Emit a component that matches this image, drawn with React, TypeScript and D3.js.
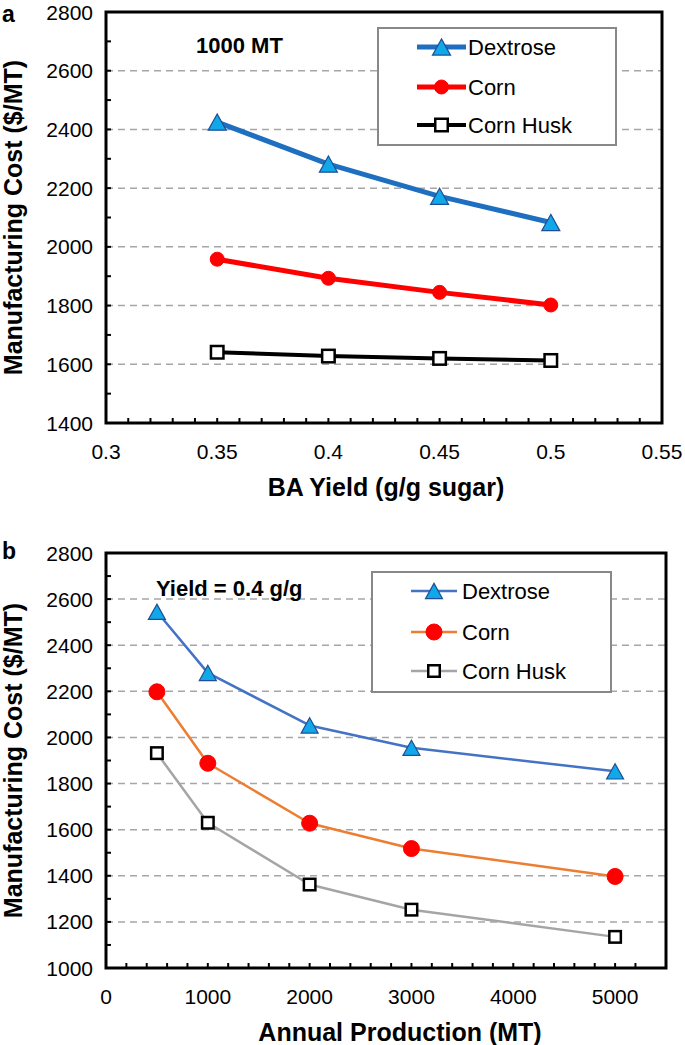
import * as d3 from "d3";

// panel a: cost vs BA yield at 1000 MT
const yieldX = [0.35, 0.4, 0.45, 0.5];
const dextroseA = [2425, 2282, 2172, 2083];
const cornA = [1958, 1893, 1845, 1802];
const huskA = [1641, 1628, 1620, 1613];
const xTicksA = [0.3, 0.35, 0.4, 0.45, 0.5, 0.55];
const yTicksA = [1400, 1600, 1800, 2000, 2200, 2400, 2600, 2800];

// panel b: cost vs annual production at yield 0.4
const productionX = [500, 1000, 2000, 3000, 5000];
const dextroseB = [2545, 2280, 2052, 1955, 1853];
const cornB = [2198, 1888, 1628, 1518, 1397];
const huskB = [1932, 1630, 1362, 1253, 1135];
const xTicksB = [0, 1000, 2000, 3000, 4000, 5000];
const yTicksB = [1000, 1200, 1400, 1600, 1800, 2000, 2200, 2400, 2600, 2800];

const seriesNames = ["Dextrose", "Corn", "Corn Husk"];

const FONT = "'Liberation Sans', Arial, sans-serif";

type Style = { line: string; width: number; marker: string; fill: string; stroke: string; mstroke: number; size: number };

const stylesA: Style[] = [
  { line: "#1f6fc0", width: 5, marker: "tri", fill: "#10a8e8", stroke: "#1f4e96", mstroke: 1.2, size: 18 },
  { line: "#ff0000", width: 5, marker: "circle", fill: "#ff0000", stroke: "#ff0000", mstroke: 1, size: 14 },
  { line: "#000000", width: 4, marker: "square", fill: "#ffffff", stroke: "#000000", mstroke: 2.5, size: 15 },
];
const stylesB: Style[] = [
  { line: "#4472c4", width: 2.5, marker: "tri", fill: "#10a8e8", stroke: "#1f4e96", mstroke: 1.2, size: 17 },
  { line: "#ed7d31", width: 2.5, marker: "circle", fill: "#ff0000", stroke: "#ff0000", mstroke: 1, size: 16 },
  { line: "#a5a5a5", width: 2.5, marker: "square", fill: "#ffffff", stroke: "#000000", mstroke: 2.5, size: 14 },
];

function Marker({ x, y, s }: { x: number; y: number; s: Style }) {
  const r = s.size / 2;
  if (s.marker === "tri") {
    const h = s.size * 0.9;
    return (
      <path
        d={`M${x},${y - h / 2}L${x + r},${y + h / 2}L${x - r},${y + h / 2}Z`}
        fill={s.fill}
        stroke={s.stroke}
        strokeWidth={s.mstroke}
      />
    );
  }
  if (s.marker === "circle") {
    return <circle cx={x} cy={y} r={r} fill={s.fill} stroke={s.stroke} strokeWidth={s.mstroke} />;
  }
  const q = r - s.mstroke / 2;
  return <rect x={x - q} y={y - q} width={q * 2} height={q * 2} fill={s.fill} stroke={s.stroke} strokeWidth={s.mstroke} />;
}

type PanelProps = {
  left: number; right: number; top: number; bottom: number;
  xDomain: [number, number]; yDomain: [number, number];
  xTicks: number[]; yTicks: number[]; xMinor: number; yMinor: number;
  xs: number[]; series: number[][]; styles: Style[];
  letter: string; letterY: number; note: string; noteX: number; noteY: number;
  xTitle: string; xTitleX: number;
  legend: { x: number; y: number; w: number; h: number; rows: number[]; lineX: [number, number]; textX: number };
};

function Panel(p: PanelProps) {
  const x = d3.scaleLinear().domain(p.xDomain).range([p.left, p.right]);
  const y = d3.scaleLinear().domain(p.yDomain).range([p.bottom, p.top]);
  const xMinor = d3.range(p.xDomain[0], p.xDomain[1] + 1e-9, p.xMinor).slice(1, -1);
  const yMinor = d3.range(p.yDomain[0], p.yDomain[1] + 1e-9, p.yMinor).slice(1, -1);
  const line = d3.line<number>().x((_, i) => x(p.xs[i])).y((d) => y(d));
  const fmt = (v: number) => String(+v.toFixed(2));
  const midY = (p.top + p.bottom) / 2;

  return (
    <g fontFamily={FONT}>
      {/* grid */}
      {p.yTicks.slice(1, -1).map((t) => (
        <line key={`g${t}`} x1={p.left} x2={p.right} y1={y(t)} y2={y(t)} stroke="#a6a6a6" strokeWidth={1.5} strokeDasharray="7,5" />
      ))}

      {/* minor ticks */}
      {xMinor.map((t) => (
        <line key={`xt${t}`} x1={x(t)} x2={x(t)} y1={p.bottom} y2={p.bottom - 5} stroke="#000" strokeWidth={2} />
      ))}
      {yMinor.map((t) => (
        <line key={`yt${t}`} x1={p.left} x2={p.left + 5} y1={y(t)} y2={y(t)} stroke="#000" strokeWidth={2} />
      ))}

      {/* frame */}
      <rect x={p.left} y={p.top} width={p.right - p.left} height={p.bottom - p.top} fill="none" stroke="#000" strokeWidth={3} />

      {/* tick labels */}
      {p.yTicks.map((t) => (
        <text key={`yl${t}`} x={p.left - 13} y={y(t)} textAnchor="end" dominantBaseline="central" fontSize={21}>{t}</text>
      ))}
      {p.xTicks.map((t) => (
        <text key={`xl${t}`} x={x(t)} y={p.bottom + 28} textAnchor="middle" dominantBaseline="central" fontSize={21}>{fmt(t)}</text>
      ))}

      {/* axis titles */}
      <text x={p.xTitleX} y={p.bottom + 64} textAnchor="middle" dominantBaseline="central" fontSize={25} fontWeight="bold">{p.xTitle}</text>
      <text transform={`translate(22,${midY}) rotate(-90)`} textAnchor="middle" fontSize={25} fontWeight="bold">Manufacturing Cost ($/MT)</text>

      <text x={2} y={p.letterY} fontSize={23} fontWeight="bold">{p.letter}</text>
      <text x={p.noteX} y={p.noteY} dominantBaseline="central" fontSize={22} fontWeight="bold">{p.note}</text>

      {/* series */}
      {p.series.map((vals, si) => (
        <g key={`s${si}`}>
          <path d={line(vals) ?? ""} fill="none" stroke={p.styles[si].line} strokeWidth={p.styles[si].width} strokeLinejoin="round" />
          {vals.map((v, i) => (
            <Marker key={i} x={x(p.xs[i])} y={y(v)} s={p.styles[si]} />
          ))}
        </g>
      ))}

      {/* legend */}
      <rect x={p.legend.x} y={p.legend.y} width={p.legend.w} height={p.legend.h} fill="#fff" stroke="#888" strokeWidth={2} />
      {seriesNames.map((name, i) => {
        const ry = p.legend.rows[i];
        const s = p.styles[i];
        const [lx1, lx2] = p.legend.lineX;
        return (
          <g key={name}>
            <line x1={lx1} x2={lx2} y1={ry} y2={ry} stroke={s.line} strokeWidth={s.width} />
            <Marker x={(lx1 + lx2) / 2} y={ry} s={s} />
            <text x={p.legend.textX} y={ry} dominantBaseline="central" fontSize={22}>{name}</text>
          </g>
        );
      })}
    </g>
  );
}

export default function App() {
  return (
    <svg width={685} height={1045} style={{ position: "absolute", left: 0, top: 0, background: "#fff" }}>
      <Panel
        left={106} right={662} top={12} bottom={423}
        xDomain={[0.3, 0.55]} yDomain={[1400, 2800]}
        xTicks={xTicksA} yTicks={yTicksA} xMinor={0.01} yMinor={100}
        xs={yieldX} series={[dextroseA, cornA, huskA]} styles={stylesA}
        letter="a" letterY={22} note="1000 MT" noteX={196} noteY={45}
        xTitle="BA Yield (g/g sugar)" xTitleX={386}
        legend={{ x: 378, y: 28, w: 238, h: 117, rows: [47, 87, 125], lineX: [417, 466], textX: 468 }}
      />
      <Panel
        left={106} right={666} top={553} bottom={968}
        xDomain={[0, 5500]} yDomain={[1000, 2800]}
        xTicks={xTicksB} yTicks={yTicksB} xMinor={200} yMinor={100}
        xs={productionX} series={[dextroseB, cornB, huskB]} styles={stylesB}
        letter="b" letterY={559} note="Yield = 0.4 g/g" noteX={156} noteY={588}
        xTitle="Annual Production (MT)" xTitleX={400}
        legend={{ x: 372, y: 572, w: 239, h: 120, rows: [591, 632, 671], lineX: [411, 457], textX: 462 }}
      />
    </svg>
  );
}
